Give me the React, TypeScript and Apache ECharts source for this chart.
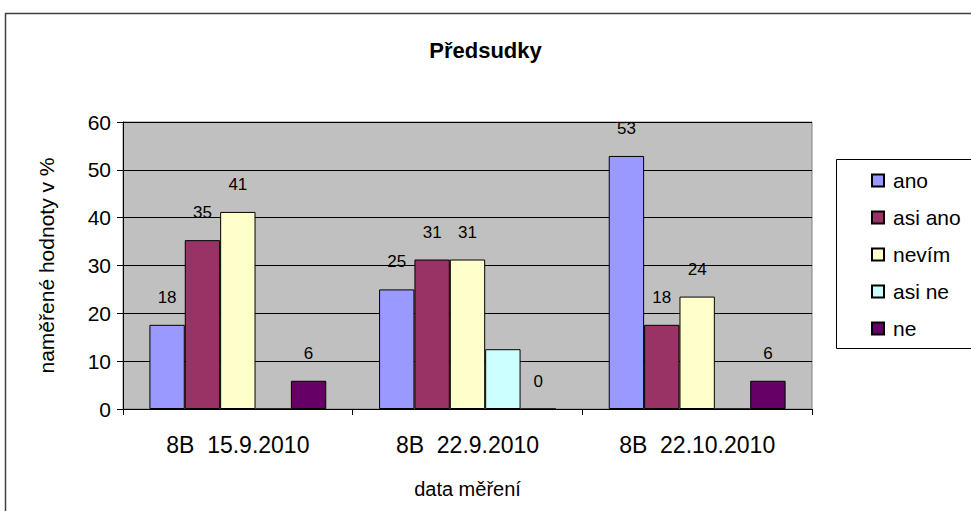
import React, { useEffect, useRef } from "react";
import * as echarts from "echarts";

const titleText = "Předsudky";
const categories = ["8B  15.9.2010", "8B  22.9.2010", "8B  22.10.2010"];
const seriesNames = ["ano", "asi ano", "nevím", "asi ne", "ne"];
const ano = [17.6, 25, 52.9];
const asiAno = [35.3, 31.25, 17.6];
const nevim = [41.2, 31.25, 23.5];
const asiNe = [0, 12.5, 0];
const ne = [5.9, 0, 5.9];
const seriesData = [ano, asiAno, nevim, asiNe, ne];
const colors = ["#9999FF", "#993366", "#FFFFCC", "#CCFFFF", "#660066"];
const showLabels = [true, true, true, false, true];
const yAxisName = "naměřené hodnoty v %";
const xAxisName = "data měření";

const FONT = "'Liberation Sans', Arial, sans-serif";

export default function App() {
  const ref = useRef<HTMLDivElement>(null);
  useEffect(() => {
    if (!ref.current) return;
    const chart = echarts.init(ref.current, undefined, { renderer: "svg" });
    chart.setOption({
      animation: false,
      backgroundColor: "#ffffff",
      textStyle: { fontFamily: FONT, color: "#000" },
      title: {
        text: titleText,
        left: "center",
        top: 34,
        textStyle: { fontFamily: FONT, fontWeight: "bold", fontSize: 22, color: "#000" },
      },
      graphic: [
        {
          type: "rect",
          shape: { x: 5.5, y: 13.5, width: 1100, height: 700 },
          style: { fill: "none", stroke: "#404040", lineWidth: 1.5 },
          z: -10,
        },
        {
          type: "rect",
          shape: { x: 836.5, y: 159.5, width: 300, height: 189 },
          style: { fill: "#ffffff", stroke: "#000", lineWidth: 1 },
          z: -5,
        },
      ],
      legend: {
        orient: "vertical",
        left: 866,
        top: 165,
        itemWidth: 12,
        itemHeight: 12,
        itemGap: 16,
        icon: "rect",
        textStyle: { fontFamily: FONT, fontSize: 21, color: "#000", lineHeight: 21, padding: [0, 0, 0, 4] },
        data: seriesNames,
      },
      grid: {
        left: 123,
        right: 159,
        top: 122,
        bottom: 102,
        show: true,
        backgroundColor: "#C0C0C0",
        borderColor: "#808080",
        borderWidth: 1,
      },
      xAxis: {
        type: "category",
        data: categories,
        name: xAxisName,
        nameLocation: "middle",
        nameGap: 70,
        nameTextStyle: { fontFamily: FONT, fontSize: 20, color: "#000" },
        axisLine: { lineStyle: { color: "#000", width: 1 } },
        axisTick: { show: true, length: 6, lineStyle: { color: "#000" } },
        axisLabel: { fontFamily: FONT, fontSize: 23, color: "#000", margin: 24 },
      },
      yAxis: {
        type: "value",
        min: 0,
        max: 60,
        interval: 10,
        name: yAxisName,
        nameLocation: "middle",
        nameGap: 66,
        nameTextStyle: { fontFamily: FONT, fontSize: 21, color: "#000" },
        axisLine: { show: true, lineStyle: { color: "#000", width: 1 } },
        axisTick: { show: true, length: 6, lineStyle: { color: "#000" } },
        axisLabel: { fontFamily: FONT, fontSize: 21, color: "#000", margin: 12 },
        splitLine: { show: true, lineStyle: { color: "#000", width: 1 } },
      },
      series: seriesNames.map((name, i) => ({
        name,
        type: "bar",
        data: seriesData[i],
        barGap: "0%",
        barCategoryGap: "23%",
        itemStyle: { color: colors[i], borderColor: "#000", borderWidth: 1 },
        label: {
          show: showLabels[i],
          position: "top",
          distance: 19,
          fontFamily: FONT,
          fontSize: 17,
          color: "#000",
          formatter: (p: any) => String(Math.round(p.value)),
        },
      })),
    });
    return () => chart.dispose();
  }, []);
  return (
    <div
      ref={ref}
      style={{ position: "fixed", left: 0, top: 0, width: 971, height: 511, background: "#fff" }}
    />
  );
}
